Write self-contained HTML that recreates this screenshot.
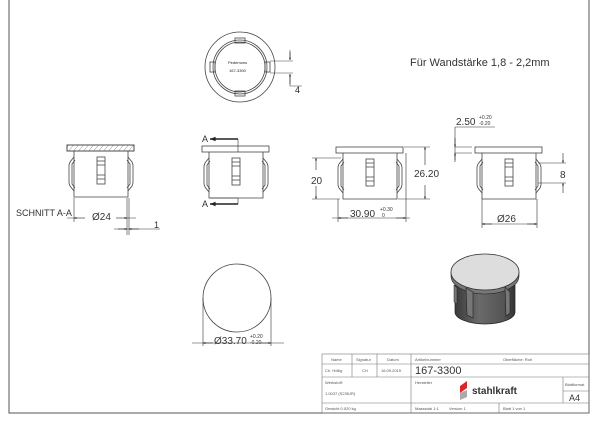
<!DOCTYPE html>
<html><head><meta charset="utf-8"><style>
html,body{margin:0;padding:0;background:#fff;}
svg{display:block;font-family:"Liberation Sans",sans-serif;}
</style></head><body>
<svg width="600" height="424" viewBox="0 0 600 424" xmlns="http://www.w3.org/2000/svg">
<defs>
<marker id="ar" viewBox="0 0 10 10" refX="10" refY="5" markerWidth="6" markerHeight="4" orient="auto-start-reverse"><path d="M0,1 L10,5 L0,9z" fill="#222"/></marker>
<pattern id="hatch" width="5" height="6" patternUnits="userSpaceOnUse" patternTransform="skewX(-40)"><line x1="0" y1="0" x2="0" y2="6" stroke="#444" stroke-width="0.7"/></pattern>
<g id="plug" fill="none" stroke="#444" stroke-width="0.8">
  <rect x="0" y="0" width="67" height="6" fill="#fff"/>
  <path d="M7,6 V52 H61 V6"/>
  <path d="M7,12 L3,17 L2,20 V38 L3,41 L7,46"/>
  <path d="M8,15 L5,19 V39 L8,43"/>
  <path d="M61,12 L65,17 L66,20 V38 L65,41 L61,46"/>
  <path d="M60,15 L63,19 V39 L60,43"/>
  <rect x="30" y="12" width="8" height="27"/>
  <path d="M30,16 H38 M30,20 H38 M30,30 H38 M30,34 H38"/>
</g>
</defs>
<path d="M9,0 V413 H589 V0" fill="none" stroke="#555" stroke-width="1"/>

<g fill="none" stroke="#444" stroke-width="0.8">
<circle cx="240" cy="67" r="35"/>
<circle cx="240" cy="67" r="27"/>
<circle cx="240" cy="67" r="25"/>
<rect x="235" y="38" width="10" height="5"/>
<rect x="235" y="91" width="10" height="5"/>
<rect x="210" y="62" width="5" height="10"/>
<rect x="265" y="62" width="5" height="10"/>
<path d="M270,61 H293 M270,73 H293 M290,50 V60 M290,74 V86 H302" stroke-width="0.6"/>
</g>
<path d="M290,52 V60" stroke="#222" stroke-width="0.6" marker-end="url(#ar)"/>
<path d="M290,84 V74" stroke="#222" stroke-width="0.6" marker-end="url(#ar)"/>
<text x="228" y="64" font-size="4" fill="#222">Pedemons</text>
<text x="229" y="72" font-size="4" fill="#222">167-3300</text>
<text x="295" y="93" font-size="9" fill="#222">4</text>
<text x="410" y="66" font-size="11" fill="#333">Für Wandstärke 1,8 - 2,2mm</text>

<use href="#plug" x="67" y="145"/>
<rect x="67" y="145" width="67" height="6" fill="url(#hatch)" stroke="#444" stroke-width="0.8"/>
<g stroke="#333" stroke-width="0.6" fill="none">
<path d="M74,198 V222 M127,198 V235 M129,198 V235 M67,218 H76 M125,218 H136"/>
<path d="M114,229 H160"/>
</g>
<path d="M85,218 L74,218" stroke="#222" stroke-width="0.6" marker-end="url(#ar)"/>
<path d="M116,218 L127,218" stroke="#222" stroke-width="0.6" marker-end="url(#ar)"/>
<path d="M118,229 L127,229" stroke="#222" stroke-width="0.6" marker-end="url(#ar)"/>
<path d="M139,229 L129,229" stroke="#222" stroke-width="0.6" marker-end="url(#ar)"/>
<text x="16" y="216" font-size="9" fill="#333">SCHNITT A-A</text>
<text x="92" y="220" font-size="10" fill="#333">Ø24</text>
<text x="154" y="228" font-size="9" fill="#333">1</text>

<use href="#plug" x="202" y="146"/>
<g stroke="#333" stroke-width="0.6" fill="none">
<path d="M238,139 V152 M238,198 V204 M210,198 H238"/>
</g>
<path d="M238,139 H210" stroke="#222" stroke-width="1.4" marker-end="url(#ar)"/>
<path d="M238,204 H210" stroke="#222" stroke-width="1.4" marker-end="url(#ar)"/>
<text x="202" y="142" font-size="9" fill="#333">A</text>
<text x="202" y="207" font-size="9" fill="#333">A</text>

<use href="#plug" x="336" y="147"/>
<g stroke="#333" stroke-width="0.6" fill="none">
<path d="M312,158 H341 M312,199 H340 M404,147 H430 M398,199 H430 M338,199 V222 M406,153 V222 M332,218 H410"/>
</g>
<path d="M316,170 V158" stroke="#222" stroke-width="0.6" marker-end="url(#ar)"/>
<path d="M316,186 V199" stroke="#222" stroke-width="0.6" marker-end="url(#ar)"/>
<path d="M425,165 V147" stroke="#222" stroke-width="0.6" marker-end="url(#ar)"/>
<path d="M425,185 V199" stroke="#222" stroke-width="0.6" marker-end="url(#ar)"/>
<path d="M348,218 L338,218" stroke="#222" stroke-width="0.6" marker-end="url(#ar)"/>
<path d="M396,218 L406,218" stroke="#222" stroke-width="0.6" marker-end="url(#ar)"/>
<text x="311" y="184" font-size="10" fill="#333">20</text>
<text x="414" y="177" font-size="10" fill="#333">26.20</text>
<text x="350" y="217" font-size="10" fill="#333">30.90</text>
<text x="380" y="211" font-size="5" fill="#333">+0.30</text>
<text x="382" y="217" font-size="5" fill="#333">0</text>

<use href="#plug" x="475" y="147"/>
<g stroke="#333" stroke-width="0.6" fill="none">
<path d="M455,147 H472 M455,153 H472 M455,127 V160 M455,127 H495 M538,163 H566 M538,183 H566 M482,199 V228 M537,199 V228 M482,224 H537"/>
</g>
<path d="M455,138 V147" stroke="#222" stroke-width="0.6" marker-end="url(#ar)"/>
<path d="M455,162 V153" stroke="#222" stroke-width="0.6" marker-end="url(#ar)"/>
<path d="M563,153 V163" stroke="#222" stroke-width="0.6" marker-end="url(#ar)"/>
<path d="M563,193 V183" stroke="#222" stroke-width="0.6" marker-end="url(#ar)"/>
<path d="M492,224 L482,224" stroke="#222" stroke-width="0.6" marker-end="url(#ar)"/>
<path d="M527,224 L537,224" stroke="#222" stroke-width="0.6" marker-end="url(#ar)"/>
<text x="456" y="125" font-size="10" fill="#333">2.50</text>
<text x="479" y="119" font-size="5" fill="#333">+0.20</text>
<text x="479" y="125" font-size="5" fill="#333">-0.20</text>
<text x="560" y="178" font-size="10" fill="#333">8</text>
<text x="497" y="222" font-size="10" fill="#333">Ø26</text>

<circle cx="237" cy="298" r="34" fill="none" stroke="#444" stroke-width="0.8"/>
<g stroke="#333" stroke-width="0.6" fill="none">
<path d="M203,298 V346 M271,298 V346 M192,343 H284"/>
</g>
<path d="M213,343 L203,343" stroke="#222" stroke-width="0.6" marker-end="url(#ar)"/>
<path d="M261,343 L271,343" stroke="#222" stroke-width="0.6" marker-end="url(#ar)"/>
<text x="214" y="344" font-size="10" fill="#333">Ø33.70</text>
<text x="250" y="338" font-size="5" fill="#333">+0.20</text>
<text x="250" y="344" font-size="5" fill="#333">-0.20</text>

<defs>
<linearGradient id="bod" x1="0" x2="1"><stop offset="0" stop-color="#3a3a3a"/><stop offset="0.4" stop-color="#6a6a6a"/><stop offset="0.8" stop-color="#555"/><stop offset="1" stop-color="#333"/></linearGradient>
</defs>
<path d="M455,280 V312 A30,12 0 0 0 515,312 V280z" fill="url(#bod)" stroke="#222" stroke-width="0.7"/>
<path d="M451,272 V276 A34,18 0 0 0 519,276 V272z" fill="#777" stroke="#222" stroke-width="0.6"/>
<ellipse cx="485" cy="272" rx="34" ry="18" fill="#ddd" stroke="#333" stroke-width="0.8"/>
<path d="M466,288 L473,292 V318 L467,315z" fill="#777" stroke="#222" stroke-width="0.6"/>
<path d="M505,287 L510,292 V313 L506,316z" fill="#777" stroke="#222" stroke-width="0.6"/>
<path d="M454,285 L457,288 V304 L454,302z" fill="#777" stroke="#222" stroke-width="0.5"/>

<g stroke="#777" stroke-width="0.6" fill="none">
<rect x="322" y="354" width="267" height="59"/>
<path d="M322,364 H589 M322,377 H589 M322,403 H589 M352,354 V377 M377,354 V377 M411,354 V413 M563,377 V403 M563,391 H589 M499,403 V413"/>
</g>
<g font-size="4" fill="#555">
<text x="331" y="361">Name</text><text x="356" y="361">Signatur</text><text x="387" y="361">Datum</text>
<text x="415" y="361">Artikelnummer</text><text x="503" y="361">Oberfläche: Roh</text>
<text x="325" y="372">Ch. Höllig</text><text x="362" y="372">CH</text><text x="381" y="372">16.09.2019</text>
<text x="325" y="384">Werkstoff:</text><text x="325" y="395">1.0037 (S235JR)</text>
<text x="415" y="384">Hersteller</text><text x="565" y="386">Blattformat</text>
<text x="325" y="410">Gewicht 0.020 kg</text><text x="415" y="410">Massstab 1:1</text><text x="449" y="410">Version 1</text><text x="503" y="410">Blatt 1 von 1</text>
</g>
<text x="415" y="374" font-size="11" fill="#333">167-3300</text>
<text x="569" y="401" font-size="9" fill="#333">A4</text>
<path d="M460,386 L467,381 V388 L460,393z" fill="#d9262b"/>
<path d="M460,393 L467,390 V397 L460,400z" fill="#aaa"/>
<text x="472" y="394" font-size="10" font-weight="bold" fill="#333">stahlkraft</text>
</svg>
</body></html>
